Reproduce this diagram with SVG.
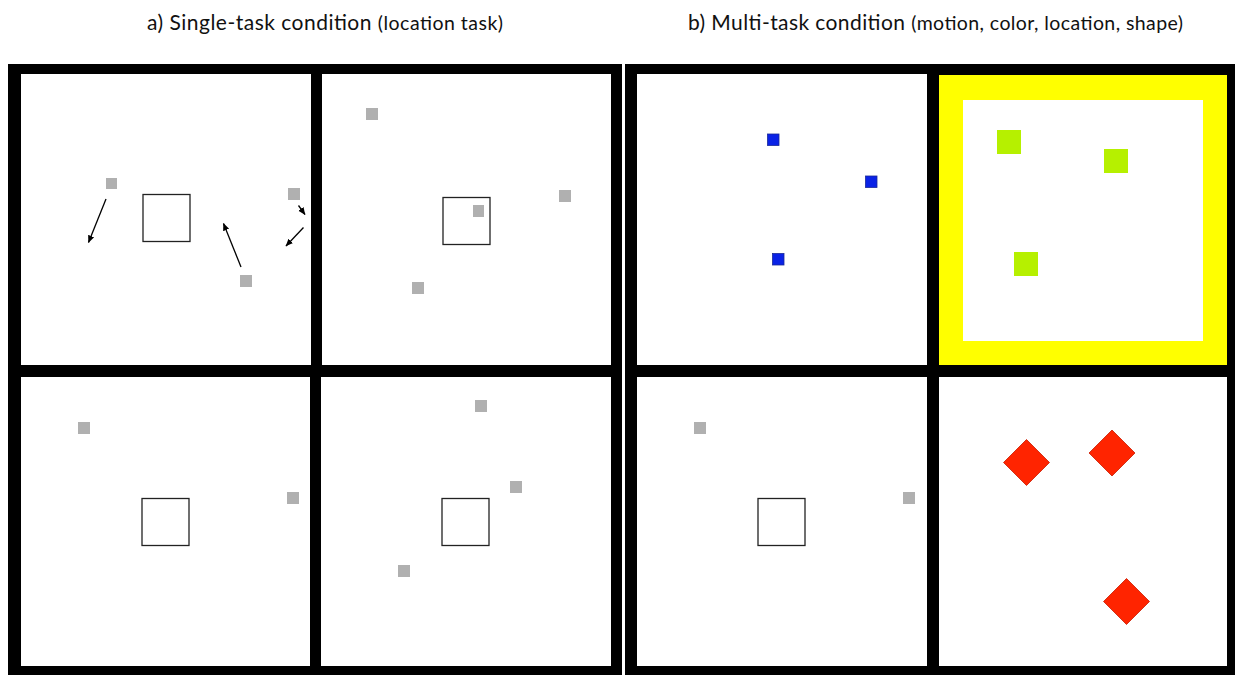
<svg xmlns="http://www.w3.org/2000/svg" width="1235" height="675" viewBox="0 0 1235 675">
  <style>
    .title { font-family: Lato, "Open Sans", "Liberation Sans", sans-serif; font-size: 21px; fill: #111; }
    .small { font-size: 19.5px; }
    .frame { fill: #000; }
    .panel { fill: #fff; }
    .gray { fill: #b0b0b0; }
    .box { fill: none; stroke: #222; stroke-width: 1.3; }
    .blue { fill: #0a22e6; stroke: #1a2a9a; stroke-width: 0.8; }
    .green { fill: #b6f000; }
    .red { fill: #ff2400; stroke: #c81a00; stroke-width: 0.8; }
    .arrow { stroke: #000; stroke-width: 1.3; fill: none; marker-end: url(#head); }
  </style>
  <defs>
    <marker id="head" markerWidth="8" markerHeight="8" refX="7" refY="4" orient="auto" markerUnits="userSpaceOnUse">
      <path d="M0,0.8 L7.5,4 L0,7.2 Z" fill="#000"/>
    </marker>
  </defs>
  <rect x="0" y="0" width="1235" height="675" fill="#fff"/>

  <g id="titles">
    <text class="title" x="325" y="30" text-anchor="middle" textLength="356" lengthAdjust="spacing">a) Single-task condition <tspan class="small">(location task)</tspan></text>
    <text class="title" x="935.5" y="30" text-anchor="middle" textLength="495" lengthAdjust="spacing">b) Multi-task condition <tspan class="small">(motion, color, location, shape)</tspan></text>
  </g>

  <g id="frame-a">
    <rect class="frame" x="8" y="64" width="614" height="611"/>
  </g>
  <g id="frame-b">
    <rect class="frame" x="625" y="64" width="610" height="611"/>
  </g>

  <g id="panel-a1">
    <rect class="panel" x="21" y="74" width="290" height="291"/>
    <rect class="gray" x="106" y="178" width="11" height="11"/>
    <rect class="gray" x="288" y="188" width="12" height="12"/>
    <rect class="gray" x="240" y="275" width="12" height="12"/>
    <rect class="box" x="143" y="194.5" width="47" height="47"/>
  </g>

  <g id="connectors">
    <line class="arrow" x1="106" y1="199" x2="88.5" y2="242.5"/>
    <line class="arrow" x1="241" y1="267" x2="223.5" y2="223.5"/>
    <line class="arrow" x1="298.5" y1="205.5" x2="305" y2="214.5"/>
    <line class="arrow" x1="303.5" y1="227.5" x2="286" y2="246"/>
  </g>

  <g id="panel-a2">
    <rect class="panel" x="322" y="74" width="289" height="291"/>
    <rect class="gray" x="366" y="108" width="12" height="12"/>
    <rect class="gray" x="473" y="205" width="11" height="12"/>
    <rect class="gray" x="559" y="190" width="12" height="12"/>
    <rect class="gray" x="412" y="282" width="12" height="12"/>
    <rect class="box" x="443" y="197.5" width="47" height="47"/>
  </g>

  <g id="panel-a3">
    <rect class="panel" x="21" y="377" width="289" height="289"/>
    <rect class="gray" x="78" y="422" width="12" height="12"/>
    <rect class="gray" x="287" y="492" width="12" height="12"/>
    <rect class="box" x="142" y="498.5" width="47" height="47"/>
  </g>

  <g id="panel-a4">
    <rect class="panel" x="321" y="377" width="290" height="289"/>
    <rect class="gray" x="475" y="400" width="12" height="12"/>
    <rect class="gray" x="510" y="481" width="12" height="12"/>
    <rect class="gray" x="398" y="565" width="12" height="12"/>
    <rect class="box" x="442" y="498.5" width="47" height="47"/>
  </g>

  <g id="panel-b1">
    <rect class="panel" x="637" y="74" width="290" height="291"/>
    <rect class="blue" x="767.5" y="134" width="11.5" height="11.5"/>
    <rect class="blue" x="865.5" y="176" width="11.5" height="11.5"/>
    <rect class="blue" x="772.5" y="253.5" width="11.5" height="11.5"/>
  </g>

  <g id="panel-b2">
    <rect x="939" y="75" width="288" height="290" fill="#ffff00"/>
    <rect class="panel" x="963" y="100" width="240" height="241"/>
    <rect class="green" x="997" y="130" width="24" height="24"/>
    <rect class="green" x="1104" y="149" width="24" height="24"/>
    <rect class="green" x="1014" y="252" width="24" height="24"/>
  </g>

  <g id="panel-b3">
    <rect class="panel" x="637" y="377" width="290" height="289"/>
    <rect class="gray" x="694" y="422" width="12" height="12"/>
    <rect class="gray" x="903" y="492" width="12" height="12"/>
    <rect class="box" x="758" y="498.5" width="47" height="47"/>
  </g>

  <g id="panel-b4">
    <rect class="panel" x="939" y="377" width="288" height="289"/>
    <polygon class="red" points="1026.5,439.5 1049.5,462.5 1026.5,485.5 1003.5,462.5"/>
    <polygon class="red" points="1112,430 1135,453 1112,476 1089,453"/>
    <polygon class="red" points="1126.5,578.5 1149.5,601.5 1126.5,624.5 1103.5,601.5"/>
  </g>
</svg>
